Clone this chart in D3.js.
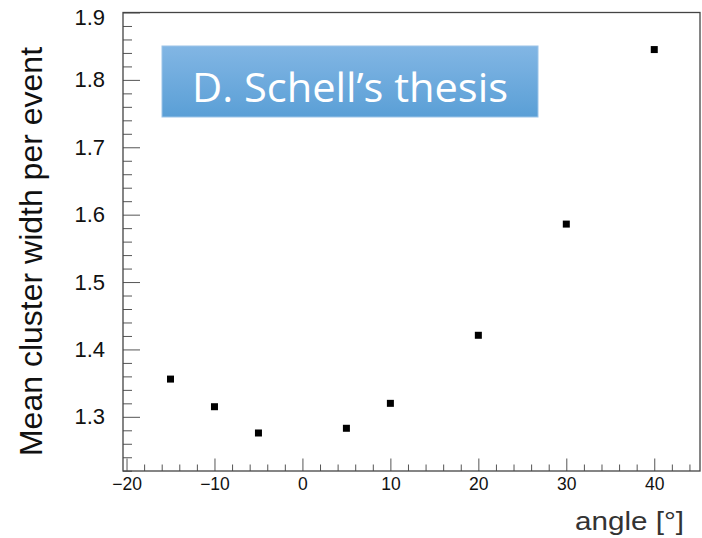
<!DOCTYPE html>
<html>
<head>
<meta charset="utf-8">
<script src="https://cdn.jsdelivr.net/npm/d3@7"></script>
<style>
  html, body { margin: 0; padding: 0; background: #fff; }
  svg { display: block; }
</style>
</head>
<body>
<div id="chart"></div>
<script>
// data
const angles = [-15, -10, -5, 5, 10, 20, 30, 40];
const clusterWidth = [1.356, 1.315, 1.276, 1.283, 1.320, 1.421, 1.586, 1.845];
const xMajorTicks = [-20, -10, 0, 10, 20, 30, 40];
const yMajorTicks = [1.3, 1.4, 1.5, 1.6, 1.7, 1.8, 1.9];
const xTitle = "angle [°]";
const yTitle = "Mean cluster width per event";
const boxLabel = "D. Schell’s thesis";

const width = 702;
const height = 538;
const margin = { top: 12.5, right: 2, bottom: 67, left: 123 };

const svg = d3.select("#chart")
    .append("svg")
    .attr("width", width)
    .attr("height", height)
    .attr("viewBox", [0, 0, width, height]);

const x = d3.scaleLinear()
    .domain([-20.4, 45.2])
    .range([margin.left, width - margin.right]);

const y = d3.scaleLinear()
    .domain([1.2196, 1.9])
    .range([height - margin.bottom, margin.top]);

const plotBottom = height - margin.bottom;
const tickFont = "'Liberation Sans', Arial, Helvetica, sans-serif";

//minor ticks every 2 deg and every 0.02
const xMinor = d3.range(-20, 45, 2).filter(v => !xMajorTicks.includes(v));
const yMinor = d3.range(122, 191, 2).map(v => v / 100).filter(v => !yMajorTicks.some(m => Math.abs(m - v) < 1e-6));

svg.append("g")
    .attr("class", "x-minor")
    .attr("transform", `translate(0,${plotBottom})`)
    .call(d3.axisBottom(x).tickValues(xMinor).tickSize(-6.5).tickFormat(""));

svg.append("g")
    .attr("class", "x-major")
    .attr("transform", `translate(0,${plotBottom})`)
    .call(d3.axisBottom(x).tickValues(xMajorTicks).tickSize(-12.5).tickPadding(7));

svg.append("g")
    .attr("class", "y-minor")
    .attr("transform", `translate(${margin.left},0)`)
    .call(d3.axisLeft(y).tickValues(yMinor).tickSize(-9).tickFormat(""));

svg.append("g")
    .attr("class", "y-major")
    .attr("transform", `translate(${margin.left},0)`)
    .call(d3.axisLeft(y).tickValues(yMajorTicks).tickSize(-17).tickPadding(18).tickFormat(d3.format(".1f")));

svg.selectAll(".domain").remove();
svg.selectAll(".tick line").attr("stroke", "#555").attr("stroke-width", 1);
svg.selectAll(".x-major text")
    .attr("font-family", tickFont)
    .attr("font-size", 17.5)
    .attr("fill", "#111");
svg.selectAll(".y-major text")
    .attr("font-family", tickFont)
    .attr("font-size", 22)
    .attr("fill", "#111");
//the top label sits a bit lower so it is not cut by the page edge
svg.selectAll(".y-major .tick")
    .filter(d => d === 1.9)
    .select("text")
    .attr("dy", "0.55em");

// frame
svg.append("rect")
    .attr("x", margin.left)
    .attr("y", margin.top)
    .attr("width", width - margin.right - margin.left)
    .attr("height", plotBottom - margin.top)
    .attr("fill", "none")
    .attr("stroke", "#444")
    .attr("stroke-width", 1.3);

// points
const size = 7;
svg.append("g")
    .selectAll("rect")
    .data(angles.map((a, i) => ({ a: a, v: clusterWidth[i] })))
    .join("rect")
    .attr("x", d => x(d.a) - size / 2)
    .attr("y", d => y(d.v) - size / 2)
    .attr("width", size)
    .attr("height", size)
    .attr("fill", "#000");

// axis titles
svg.append("text")
    .attr("transform", `translate(42,${251.5}) rotate(-90)`)
    .attr("text-anchor", "middle")
    .attr("font-family", tickFont)
    .attr("font-size", 32)
    .attr("fill", "#111")
    .text(yTitle);

svg.append("text")
    .attr("x", 575)
    .attr("y", 530)
    .attr("font-family", tickFont)
    .attr("font-size", 25)
    .attr("textLength", 109)
    .attr("lengthAdjust", "spacingAndGlyphs")
    .attr("fill", "#333")
    .text(xTitle);

// label box
const defs = svg.append("defs");
const grad = defs.append("linearGradient")
    .attr("id", "boxGrad")
    .attr("x1", 0).attr("y1", 0)
    .attr("x2", 0).attr("y2", 1);
grad.append("stop").attr("offset", "0%").attr("stop-color", "#82b6e4");
grad.append("stop").attr("offset", "100%").attr("stop-color", "#5a9fd6");

svg.append("rect")
    .attr("x", 162)
    .attr("y", 46)
    .attr("width", 376)
    .attr("height", 71)
    .attr("fill", "url(#boxGrad)")
    .attr("stroke", "#9cc4e8")
    .attr("stroke-width", 1);

svg.append("text")
    .attr("x", 192)
    .attr("y", 102)
    .attr("font-family", "'Open Sans', 'Noto Sans', sans-serif")
    .attr("font-size", 41)
    .attr("textLength", 316)
    .attr("lengthAdjust", "spacingAndGlyphs")
    .attr("fill", "#fff")
    .text(boxLabel);
</script>
</body>
</html>
